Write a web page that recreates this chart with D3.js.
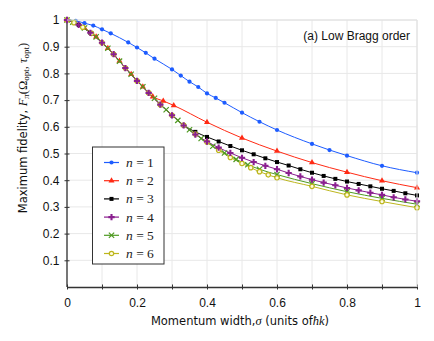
<!DOCTYPE html>
<html><head><meta charset="utf-8">
<script src="https://cdn.jsdelivr.net/npm/d3@7"></script>
<style>
html,body{margin:0;padding:0;background:#fff;}
svg{display:block;}
</style></head>
<body>
<svg id="chart" width="434" height="341"></svg>
<script>
// ---- data ----
const seriesNames = ["n = 1","n = 2","n = 3","n = 4","n = 5","n = 6"];
const xTicks = [0,0.1,0.2,0.3,0.4,0.5,0.6,0.7,0.8,0.9,1];
const xTickLabels = ["0","","0.2","","0.4","","0.6","","0.8","","1"];
const yTicks = [0.1,0.2,0.3,0.4,0.5,0.6,0.7,0.8,0.9,1];
const yTickLabels = ["0.1","0.2","0.3","0.4","0.5","0.6","0.7","0.8","0.9","1"];

const x1 = [0,0.025,0.05,0.075,0.1,0.125,0.175,0.2,0.225,0.25,0.3,0.325,0.35,0.375,0.4,0.425,0.45,0.5,0.55,0.6,0.7,0.75,0.8,0.9,1.0];
const y1 = [1,0.997,0.988,0.979,0.965,0.95,0.916,0.897,0.877,0.855,0.815,0.792,0.769,0.749,0.725,0.708,0.69,0.653,0.619,0.588,0.536,0.513,0.492,0.454,0.428];

const x2 = [0,0.05,0.0833,0.1167,0.15,0.1833,0.2167,0.245,0.275,0.305,0.4,0.5,0.6,0.7,0.8,0.9,1.0];
const y2 = [1,0.97,0.937,0.894,0.846,0.797,0.75,0.713,0.697,0.68,0.617,0.558,0.509,0.466,0.43,0.398,0.372];

const x3 = [0,0.0333,0.0667,0.1,0.1333,0.1667,0.2,0.2333,0.2667,0.3,0.3333,0.3667,0.4,0.4333,0.4667,0.5,0.5333,0.5667,0.6,0.6333,0.6667,0.7,0.7333,0.7667,0.8,0.8333,0.8667,0.9,0.9333,0.9667,1.0];
const y3 = [1,0.982,0.952,0.915,0.872,0.82,0.772,0.727,0.683,0.643,0.606,0.581,0.562,0.545,0.528,0.512,0.497,0.482,0.468,0.455,0.441,0.428,0.416,0.405,0.395,0.386,0.377,0.368,0.36,0.351,0.343];

const x4 = [0,0.0333,0.0667,0.1,0.1333,0.1667,0.2,0.2333,0.2667,0.3,0.3333,0.3667,0.4,0.4333,0.4667,0.5,0.5333,0.5667,0.6,0.6333,0.6667,0.7,0.7333,0.7667,0.8,0.8333,0.8667,0.9,0.9333,0.9667,1.0];
const y4 = [1,0.982,0.952,0.915,0.872,0.82,0.772,0.727,0.683,0.643,0.605,0.571,0.545,0.522,0.502,0.484,0.468,0.454,0.441,0.427,0.414,0.402,0.391,0.381,0.371,0.362,0.353,0.345,0.336,0.328,0.321];

const x5 = [0,0.0167,0.05,0.0833,0.1167,0.15,0.1833,0.2167,0.25,0.2833,0.3167,0.35,0.3833,0.4167,0.45,0.4833,0.5167,0.55,0.6,0.7,0.8,0.9,1.0];
const y5 = [1,0.992,0.97,0.937,0.894,0.846,0.797,0.75,0.707,0.664,0.624,0.589,0.556,0.527,0.502,0.478,0.458,0.441,0.421,0.387,0.357,0.332,0.31];

const x6 = [0,0.02,0.045,0.07,0.1,0.1333,0.1667,0.2,0.2333,0.2667,0.3,0.3333,0.3667,0.4,0.4333,0.4667,0.5,0.525,0.55,0.575,0.6,0.7,0.8,0.9,1.0];
const y6 = [1,0.99,0.973,0.95,0.915,0.872,0.82,0.772,0.727,0.683,0.643,0.606,0.573,0.543,0.512,0.485,0.463,0.447,0.432,0.42,0.409,0.377,0.345,0.32,0.297];

const seriesX = [x1,x2,x3,x4,x5,x6];
const seriesY = [y1,y2,y3,y4,y5,y6];
const colors = ["#1d5cff","#ff2a14","#000000","#8a1f8f","#4f9a22","#bdb61c"];
const markers = ["circle","triangle","square","cross","times","ring"];

// ---- layout ----
const svg = d3.select("#chart");
const L = 67, R = 417, T = 20, B = 287;
const x = d3.scaleLinear().domain([0,1]).range([L,R]);
const y = d3.scaleLinear().domain([0,1]).range([B,T]);

// grid
const grid = svg.append("g").attr("stroke","#e8e8e8").attr("stroke-width",1);
xTicks.forEach(v=>{ grid.append("line").attr("x1",x(v)).attr("x2",x(v)).attr("y1",T).attr("y2",B); });
yTicks.forEach(v=>{ grid.append("line").attr("x1",L).attr("x2",R).attr("y1",y(v)).attr("y2",y(v)); });

// axes
const fontTick = "'Liberation Sans', Arial, sans-serif";
const xAxis = d3.axisBottom(x).tickValues(xTicks).tickFormat((d,i)=>xTickLabels[i]).tickSizeInner(2.5).tickSizeOuter(0).tickPadding(9);
const gx = svg.append("g").attr("transform",`translate(0,${B})`).call(xAxis);
gx.select(".domain").attr("stroke","#333").attr("stroke-width",1.3);
gx.selectAll(".tick line").attr("stroke","#333").attr("y1",-2.5);
gx.selectAll(".tick text").attr("font-family",fontTick).attr("font-size",12).attr("fill","#111");

const yAxis = d3.axisLeft(y).tickValues(yTicks).tickFormat((d,i)=>yTickLabels[i]).tickSizeInner(2.5).tickSizeOuter(0).tickPadding(5);
const gy = svg.append("g").attr("transform",`translate(${L},0)`).call(yAxis);
gy.select(".domain").attr("stroke","#333").attr("stroke-width",1.3).attr("d",`M0,${T}V${B}`);
gy.selectAll(".tick line").attr("stroke","#333").attr("x1",2.5);
gy.selectAll(".tick text").attr("font-family",fontTick).attr("font-size",12).attr("fill","#111");

// markers
function drawMarker(g, type, cx, cy, col){
  if(type==="circle"){
    g.append("circle").attr("cx",cx).attr("cy",cy).attr("r",2.1).attr("fill",col);
  } else if(type==="triangle"){
    g.append("path").attr("transform",`translate(${cx},${cy})`).attr("d",d3.symbol(d3.symbolTriangle,16)()).attr("fill",col);
  } else if(type==="square"){
    g.append("rect").attr("x",cx-2).attr("y",cy-2).attr("width",4).attr("height",4).attr("fill",col);
  } else if(type==="cross"){
    g.append("path").attr("transform",`translate(${cx},${cy})`).attr("d",d3.symbol(d3.symbolCross,22)()).attr("fill",col);
  } else if(type==="times"){
    g.append("path").attr("transform",`translate(${cx},${cy})`).attr("d",d3.symbol(d3.symbolTimes,20)()).attr("fill","none").attr("stroke",col).attr("stroke-width",1.2);
  } else if(type==="ring"){
    g.append("circle").attr("cx",cx).attr("cy",cy).attr("r",2.2).attr("fill","#fffbe0").attr("stroke",col).attr("stroke-width",1.2);
  }
}

// lines
const line = d3.line().curve(d3.curveMonotoneX);
const lineOrder = [0,1,2,4,5,3];
const gl = svg.append("g");
lineOrder.forEach(i=>{
  const pts = seriesX[i].map((v,j)=>[x(v), y(seriesY[i][j])]);
  gl.append("path").attr("d",line(pts)).attr("fill","none").attr("stroke",colors[i]).attr("stroke-width",1);
});
const gm = svg.append("g");
[0,1,2,4,5,3].forEach(i=>{
  seriesX[i].forEach((v,j)=>drawMarker(gm, markers[i], x(v), y(seriesY[i][j]), colors[i]));
});

// frame top/right
svg.append("line").attr("x1",L).attr("x2",R).attr("y1",T).attr("y2",T).attr("stroke","#e0e0e0");
svg.append("line").attr("x1",R).attr("x2",R).attr("y1",T).attr("y2",B).attr("stroke","#e0e0e0");

// title
svg.append("text").attr("x",410).attr("y",40).attr("text-anchor","end")
  .attr("font-family",fontTick).attr("font-size",12).attr("fill","#111").text("(a) Low Bragg order");

// legend
const lg = svg.append("g");
lg.append("rect").attr("x",92.5).attr("y",147).attr("width",71.5).attr("height",117).attr("fill","#fff").attr("stroke","#333").attr("stroke-width",1);
seriesNames.forEach((nm,i)=>{
  const yy = 162.5 + i*18.2;
  lg.append("line").attr("x1",104).attr("x2",119).attr("y1",yy).attr("y2",yy).attr("stroke",colors[i]).attr("stroke-width",1.2);
  drawMarker(lg, markers[i], 111.5, yy, colors[i]);
  const t = lg.append("text").attr("x",126).attr("y",yy+4.5).attr("font-family","'Liberation Serif','DejaVu Serif',serif").attr("font-size",13.5).attr("fill","#222");
  t.append("tspan").attr("font-style","italic").text(nm.split(" ")[0]);
  t.append("tspan").text(" " + nm.split(" ").slice(1).join(" "));
});

// x label
const xl = svg.append("text").attr("x",240).attr("y",325).attr("text-anchor","middle")
  .attr("font-family","'DejaVu Sans',sans-serif").attr("font-size",11.5).attr("fill","#111");
xl.append("tspan").text("Momentum width,");
xl.append("tspan").attr("font-family","'Liberation Serif',serif").attr("font-style","italic").attr("font-size",12.5).text("σ");
xl.append("tspan").text(" (units of");
xl.append("tspan").attr("font-family","'Liberation Serif',serif").attr("font-style","italic").attr("font-size",12.5).text("ħk");
xl.append("tspan").text(")");

// y label
const yl = svg.append("text").attr("transform","translate(27,128) rotate(-90)").attr("text-anchor","middle")
  .attr("font-family","'DejaVu Sans',sans-serif").attr("font-size",11.5).attr("fill","#111");
yl.append("tspan").text("Maximum fidelity, ");
const ser = "'Liberation Serif',serif";
yl.append("tspan").attr("font-family",ser).attr("font-style","italic").attr("font-size",12.5).text("F");
yl.append("tspan").attr("font-family",ser).attr("font-style","italic").attr("font-size",9).attr("dy",2).text("π");
yl.append("tspan").attr("font-family",ser).attr("font-size",12.5).attr("dy",-2).text("(Ω");
yl.append("tspan").attr("font-family",ser).attr("font-size",9).attr("dy",2).text("opt");
yl.append("tspan").attr("font-family",ser).attr("font-size",12.5).attr("dy",-2).text(", ");
yl.append("tspan").attr("font-family",ser).attr("font-style","italic").attr("font-size",12.5).text("τ");
yl.append("tspan").attr("font-family",ser).attr("font-size",9).attr("dy",2).text("opt");
yl.append("tspan").attr("font-family",ser).attr("font-size",12.5).attr("dy",-2).text(")");
</script>
</body></html>
